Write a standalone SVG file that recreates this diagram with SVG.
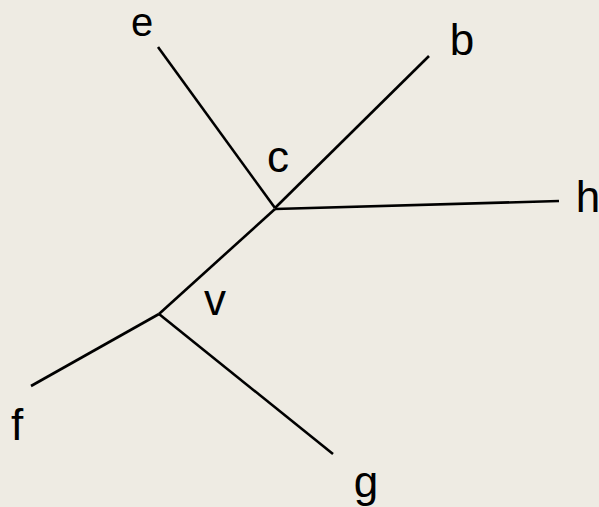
<svg xmlns="http://www.w3.org/2000/svg" width="599" height="507" viewBox="0 0 599 507">
<style>
.e{stroke:#000;stroke-width:2.6;fill:none}
.l{font-family:"Liberation Sans",Arial,sans-serif;font-size:44px;fill:#000;text-anchor:middle}
</style>
<rect width="599" height="507" fill="#EEEBE3"/>
<g id="connectors">
<line class="e" x1="275" y1="208" x2="158" y2="47"/>
<line class="e" x1="275" y1="208" x2="429" y2="56"/>
<line class="e" x1="275" y1="209" x2="559" y2="201"/>
<line class="e" x1="275" y1="209" x2="159" y2="314"/>
<line class="e" x1="159" y1="314" x2="31" y2="386"/>
<line class="e" x1="159" y1="314" x2="333" y2="454"/>
</g>
<g id="node-e"><text class="l" x="142" y="36" style="font-size:40px">e</text></g>
<g id="node-c"><text class="l" x="278" y="172">c</text></g>
<g id="node-b"><text class="l" x="462" y="55">b</text></g>
<g id="node-h"><text class="l" x="588" y="212">h</text></g>
<g id="node-v"><text class="l" x="215" y="315">v</text></g>
<g id="node-f"><text class="l" x="17" y="440">f</text></g>
<g id="node-g"><text class="l" x="366" y="497">g</text></g>
</svg>
